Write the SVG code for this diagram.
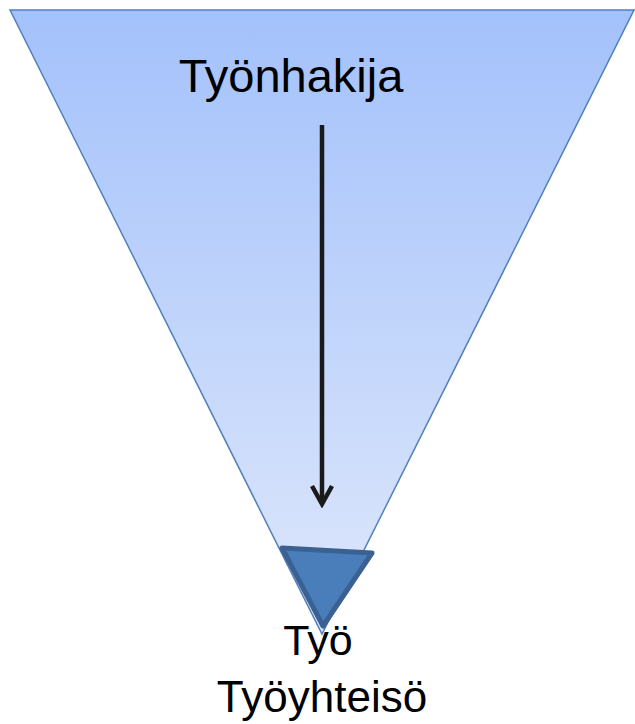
<svg xmlns="http://www.w3.org/2000/svg" width="635" height="724" viewBox="0 0 635 724">
<style>
.lbl{font-family:"Liberation Sans",Arial,sans-serif;fill:#000;text-anchor:middle}
.conn{stroke:#1a1a1a;stroke-width:4.5;fill:none}
</style>
<defs>
<linearGradient id="g" x1="0" y1="0" x2="0" y2="1">
<stop offset="0" stop-color="#a3c1fb"/>
<stop offset="1" stop-color="#dfe8fb"/>
</linearGradient>
<marker id="ah" viewBox="0 0 24 24" refX="20" refY="12" markerWidth="24" markerHeight="24" markerUnits="userSpaceOnUse" orient="auto">
<path d="M2,2 L20,12 L2,22" fill="none" stroke="#1a1a1a" stroke-width="4.5" stroke-linejoin="miter"/>
</marker>
</defs>
<g id="funnel">
<polygon points="10,10 634,10 322,634" fill="url(#g)" stroke="#4f7fbd" stroke-width="1.5"/>
</g>
<g id="target">
<polygon points="282,548 372,553 323,626" fill="#4a7ebb" stroke="#3a6192" stroke-width="5" stroke-linejoin="round"/>
</g>
<g id="connectors">
<line class="conn" x1="322" y1="125" x2="322" y2="504" marker-end="url(#ah)"/>
</g>
<g id="labels">
<text class="lbl" x="291" y="92" font-size="47">Työnhakija</text>
<text class="lbl" x="318" y="655" font-size="43">Työ</text>
<text class="lbl" x="322" y="712" font-size="44">Työyhteisö</text>
</g>
</svg>
